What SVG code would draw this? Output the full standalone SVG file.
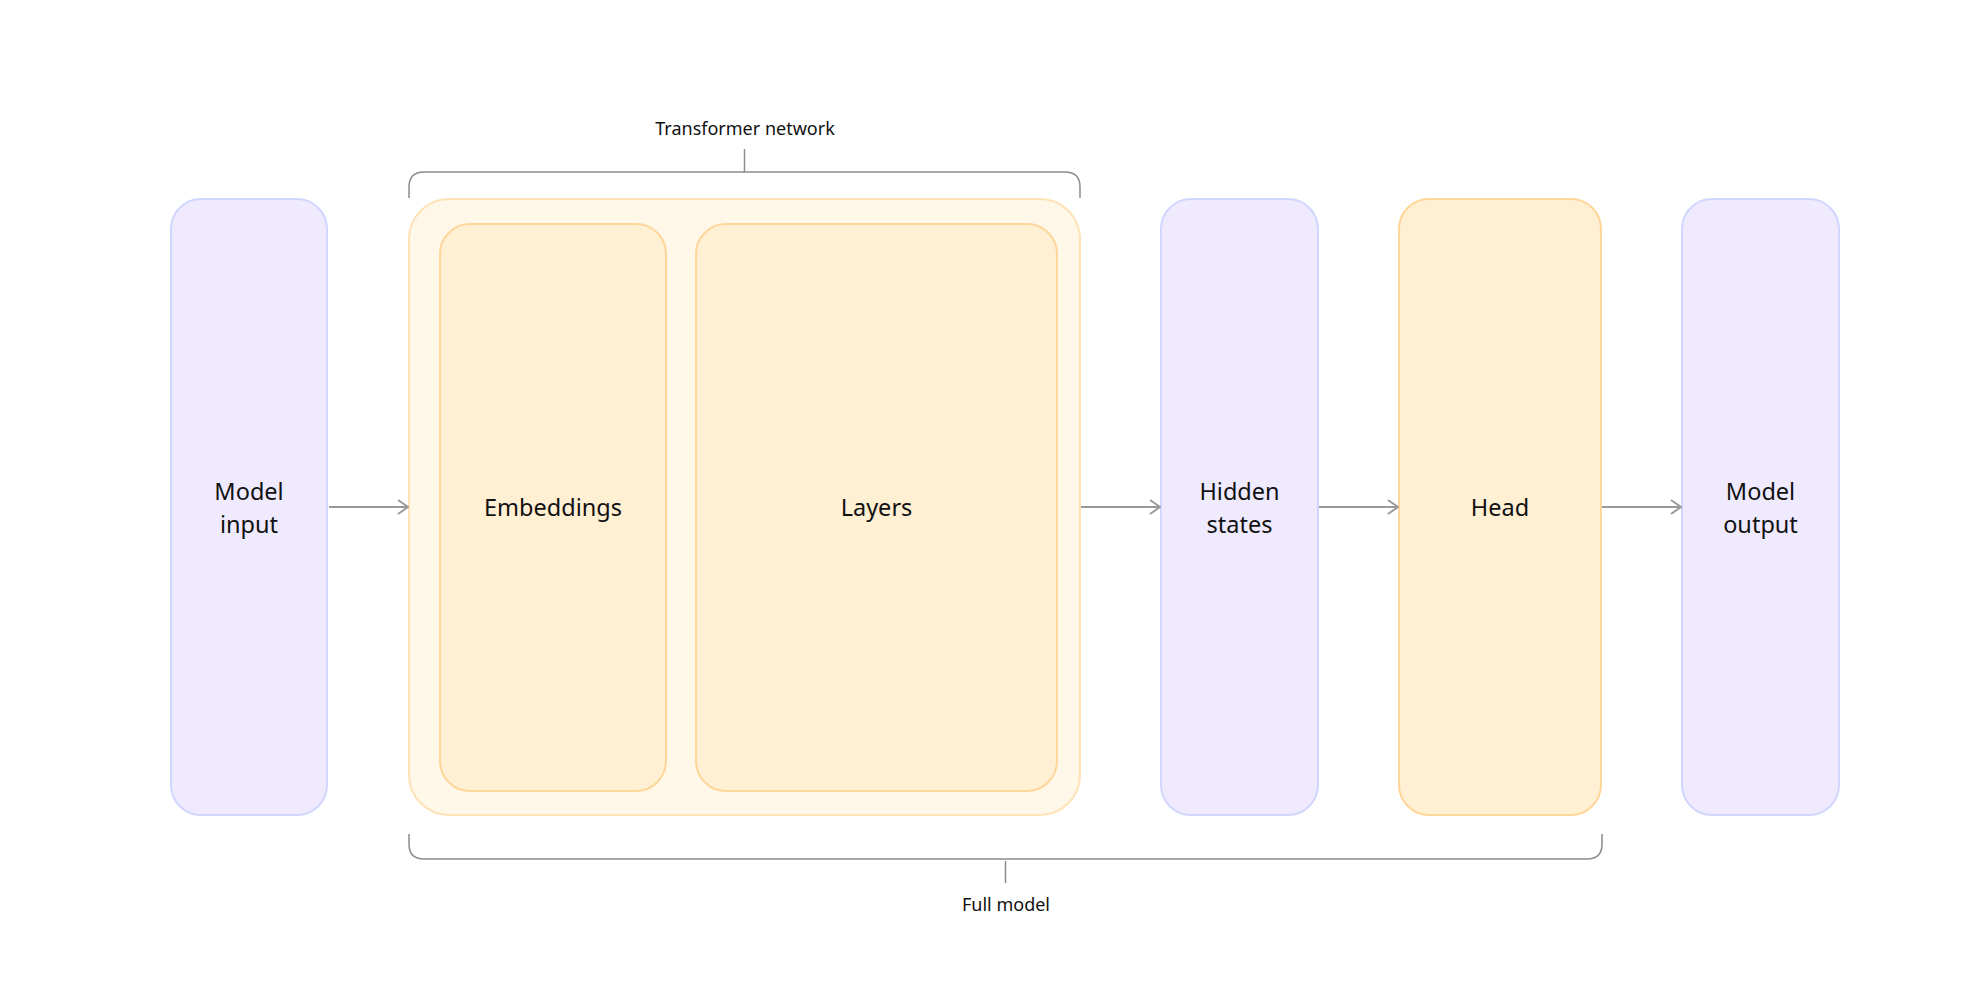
<svg xmlns="http://www.w3.org/2000/svg" width="1974" height="986" viewBox="0 0 1974 986">
<style>
.bg{fill:#ffffff}
.purple{fill:#efeafe;stroke:#d0d6fd;stroke-width:2}
.outer{fill:#fff7e7;stroke:#ffe2b5;stroke-width:2}
.inner{fill:#ffefd3;stroke:#ffd699;stroke-width:2}
.lbl{font-family:"Noto Sans","Open Sans",sans-serif;font-size:23.5px;fill:#111111;text-anchor:middle}
.small{font-family:"Noto Sans","Open Sans",sans-serif;font-size:18px;fill:#111111;text-anchor:middle}
.conn{fill:none;stroke:#999999;stroke-width:2}
.brace{fill:none;stroke:#8c8c8c;stroke-width:1.5}
</style>
<defs>
<marker id="arr" viewBox="0 0 12 16" refX="11" refY="8" markerWidth="12" markerHeight="16" markerUnits="userSpaceOnUse" orient="auto">
<path d="M1,1 L11,8 L1,15" fill="none" stroke="#999999" stroke-width="2"/>
</marker>
</defs>
<rect class="bg" x="0" y="0" width="1974" height="986"/>

<g id="brace-transformer">
<path class="brace" d="M409,198 V187 Q409,172 424,172 H1065 Q1080,172 1080,187 V198"/>
<line class="brace" x1="744.5" y1="149" x2="744.5" y2="172"/>
<text class="small" x="745" y="135">Transformer network</text>
</g>

<g id="brace-full">
<path class="brace" d="M409,834 V844 Q409,859 424,859 H1587 Q1602,859 1602,844 V834"/>
<line class="brace" x1="1005.5" y1="861" x2="1005.5" y2="883"/>
<text class="small" x="1006" y="911">Full model</text>
</g>

<g id="model-input">
<rect class="purple" x="171" y="199" width="156" height="616" rx="30"/>
<text class="lbl" x="249" y="500">Model</text>
<text class="lbl" x="249" y="533">input</text>
</g>

<g id="transformer">
<rect class="outer" x="409" y="199" width="671" height="616" rx="40"/>
</g>

<g id="embeddings">
<rect class="inner" x="440" y="224" width="226" height="567" rx="30"/>
<text class="lbl" x="553" y="516">Embeddings</text>
</g>

<g id="layers">
<rect class="inner" x="696" y="224" width="361" height="567" rx="30"/>
<text class="lbl" x="876.5" y="516">Layers</text>
</g>

<g id="hidden-states">
<rect class="purple" x="1161" y="199" width="157" height="616" rx="30"/>
<text class="lbl" x="1239.5" y="500">Hidden</text>
<text class="lbl" x="1239.5" y="533">states</text>
</g>

<g id="head">
<rect class="inner" x="1399" y="199" width="202" height="616" rx="30"/>
<text class="lbl" x="1500" y="516">Head</text>
</g>

<g id="model-output">
<rect class="purple" x="1682" y="199" width="157" height="616" rx="30"/>
<text class="lbl" x="1760.5" y="500">Model</text>
<text class="lbl" x="1760.5" y="533">output</text>
</g>

<g id="connectors">
<line class="conn" x1="329" y1="507" x2="408" y2="507" marker-end="url(#arr)"/>
<line class="conn" x1="1081" y1="507" x2="1160" y2="507" marker-end="url(#arr)"/>
<line class="conn" x1="1319" y1="507" x2="1398" y2="507" marker-end="url(#arr)"/>
<line class="conn" x1="1602" y1="507" x2="1681" y2="507" marker-end="url(#arr)"/>
</g>
</svg>
